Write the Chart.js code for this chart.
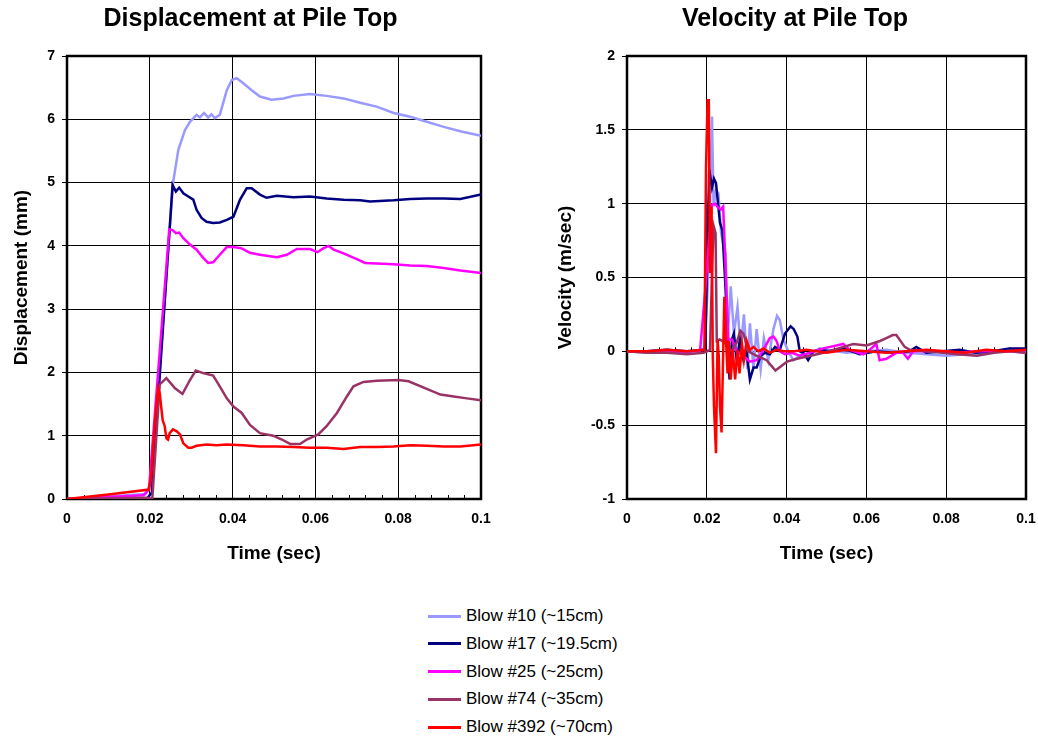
<!DOCTYPE html>
<html>
<head>
<meta charset="UTF-8" />
<script src="https://cdn.jsdelivr.net/npm/chart.js"></script>
<style>
  body, html {
    margin: 0;
    padding: 0;
    background: #fff;
    width: 1038px;
    height: 740px;
    overflow: hidden;
    font-family: "Liberation Sans", Arial, sans-serif;
  }
  #dispChart { position: absolute; left: 0; top: 0; }
  #velChart { position: absolute; left: 552px; top: 0; }
  .row { position: absolute; left: 428px; height: 28px; line-height: 28px; font-size: 17px; color: #000; white-space: nowrap; }
  .row span.line { position: absolute; left: 0; top: 12.5px; width: 33px; height: 3px; }
  .row span.txt { position: absolute; left: 38px; top: 0; }
</style>
</head>
<body>
<canvas id="dispChart" width="501" height="569"></canvas>
<canvas id="velChart" width="486" height="569"></canvas>
<div id="legend"></div>
<script>
  const blowNames = ['Blow #10 (~15cm)', 'Blow #17 (~19.5cm)', 'Blow #25 (~25cm)', 'Blow #74 (~35cm)', 'Blow #392 (~70cm)'];
  const blowColors = ['#9999FF', '#000080', '#FF00FF', '#993366', '#FF0000'];

  // displacement (mm) vs time (sec), [t, d]
  const disp10 = [[0,0],[0.01,0.04],[0.019,0.08],[0.0205,0.3],[0.0256,4.99],[0.0269,5.52],[0.0285,5.83],[0.0297,5.96],[0.0313,6.07],[0.0321,6.03],[0.0331,6.1],[0.0341,6.03],[0.0349,6.08],[0.0357,6.02],[0.0369,6.07],[0.0386,6.46],[0.0398,6.62],[0.041,6.65],[0.0426,6.57],[0.0446,6.46],[0.0466,6.36],[0.0494,6.31],[0.0523,6.33],[0.0547,6.37],[0.0587,6.4],[0.0627,6.37],[0.0668,6.33],[0.0708,6.26],[0.0748,6.2],[0.0789,6.1],[0.0829,6.04],[0.0869,5.96],[0.091,5.88],[0.095,5.81],[0.1,5.74]];
  const disp17 = [[0,0],[0.0192,0],[0.0205,0.1],[0.0255,4.96],[0.0263,4.86],[0.0271,4.92],[0.0281,4.83],[0.0293,4.78],[0.0305,4.73],[0.0313,4.57],[0.0325,4.44],[0.0337,4.38],[0.0353,4.36],[0.0369,4.37],[0.0386,4.41],[0.0402,4.46],[0.0418,4.73],[0.0434,4.91],[0.0446,4.91],[0.0466,4.81],[0.0482,4.76],[0.0507,4.79],[0.0547,4.77],[0.0587,4.78],[0.0627,4.75],[0.0668,4.73],[0.0708,4.72],[0.0732,4.7],[0.0789,4.72],[0.0829,4.74],[0.0869,4.75],[0.091,4.75],[0.095,4.74],[0.1,4.81]];
  const disp25 = [[0,0],[0.01,0.03],[0.0185,0.06],[0.0198,0.15],[0.0247,4.26],[0.0255,4.25],[0.0263,4.2],[0.0271,4.21],[0.0281,4.12],[0.0297,4.02],[0.0313,3.94],[0.0329,3.81],[0.0341,3.73],[0.0353,3.74],[0.0369,3.86],[0.0386,3.98],[0.0402,3.98],[0.0422,3.96],[0.0442,3.89],[0.0466,3.86],[0.0507,3.82],[0.0531,3.86],[0.0555,3.95],[0.0587,3.95],[0.0605,3.9],[0.0619,3.96],[0.0632,4.0],[0.0644,3.94],[0.0668,3.88],[0.07,3.79],[0.072,3.73],[0.0748,3.72],[0.0789,3.71],[0.0829,3.69],[0.0869,3.68],[0.091,3.65],[0.095,3.61],[0.1,3.57]];
  const disp74 = [[0,0],[0.01,0.01],[0.0195,0.02],[0.0206,0],[0.0224,1.81],[0.024,1.91],[0.0261,1.75],[0.0279,1.66],[0.0297,1.88],[0.0311,2.03],[0.0329,1.99],[0.0353,1.95],[0.0369,1.78],[0.0386,1.59],[0.0402,1.46],[0.0422,1.36],[0.0442,1.17],[0.0466,1.04],[0.0498,1.0],[0.0519,0.94],[0.0539,0.87],[0.0563,0.87],[0.0579,0.94],[0.0607,1.02],[0.0627,1.15],[0.0652,1.36],[0.0676,1.62],[0.0692,1.78],[0.0716,1.85],[0.0748,1.87],[0.0801,1.88],[0.0825,1.86],[0.0869,1.74],[0.0902,1.65],[0.0934,1.62],[0.0966,1.59],[0.1,1.56]];
  const disp392 = [[0,0],[0.01,0.07],[0.0198,0.15],[0.0204,0.41],[0.0212,1.2],[0.022,1.75],[0.0224,1.67],[0.0231,1.25],[0.0236,1.15],[0.024,0.96],[0.0244,0.94],[0.0248,1.04],[0.0256,1.1],[0.0265,1.07],[0.0273,1.02],[0.0281,0.88],[0.0293,0.81],[0.0301,0.81],[0.0313,0.84],[0.0337,0.86],[0.0361,0.85],[0.0386,0.86],[0.0426,0.85],[0.0466,0.83],[0.0507,0.83],[0.0547,0.82],[0.0587,0.81],[0.0627,0.81],[0.0668,0.79],[0.0708,0.82],[0.0748,0.82],[0.0789,0.83],[0.0829,0.85],[0.0869,0.84],[0.091,0.83],[0.095,0.83],[0.1,0.86]];

  // velocity (m/sec) vs time (sec), [t, v]
  const vel10 = [[0,0],[0.005,-0.01],[0.01,0],[0.015,-0.01],[0.0195,0.02],[0.0205,0.6],[0.0213,1.59],[0.0217,0.98],[0.0223,1.09],[0.0229,1.07],[0.0236,0.8],[0.0242,0.71],[0.0247,0.67],[0.0252,0.08],[0.026,0.44],[0.0268,0.12],[0.0277,0.3],[0.0285,0.01],[0.0293,0.25],[0.0302,-0.12],[0.0308,0.19],[0.0317,-0.12],[0.0325,0.15],[0.0335,-0.12],[0.0343,0.09],[0.0354,-0.06],[0.0367,0.15],[0.0376,0.24],[0.0383,0.21],[0.0392,0.08],[0.0404,0],[0.0417,-0.06],[0.0438,-0.02],[0.0458,-0.02],[0.0483,0.02],[0.05,0.01],[0.055,-0.01],[0.06,0],[0.065,0.01],[0.07,-0.01],[0.075,-0.02],[0.08,-0.03],[0.085,-0.02],[0.09,-0.01],[0.095,0.01],[0.1,0]];
  const vel17 = [[0,0],[0.005,0],[0.01,0.01],[0.015,0],[0.0196,0.01],[0.0206,1.23],[0.0213,1.11],[0.0218,1.17],[0.0223,1.14],[0.0233,0.87],[0.0239,0.82],[0.0245,0.53],[0.025,0.26],[0.0257,-0.19],[0.0263,0.08],[0.0268,0.12],[0.0275,-0.06],[0.0283,0.08],[0.0292,-0.06],[0.03,-0.01],[0.0308,-0.19],[0.0317,-0.11],[0.0325,-0.11],[0.0335,-0.03],[0.0346,-0.01],[0.0358,-0.02],[0.0371,0.03],[0.0383,0.01],[0.0396,0.12],[0.041,0.17],[0.0418,0.15],[0.0427,0.1],[0.0433,0],[0.0442,-0.01],[0.0454,-0.06],[0.0467,0],[0.0483,0.01],[0.0508,0],[0.0542,0.02],[0.0583,-0.02],[0.0625,0],[0.0667,-0.01],[0.0708,0],[0.0725,0.03],[0.075,-0.01],[0.0792,0],[0.0833,0.01],[0.0875,-0.01],[0.0917,0],[0.0958,0.02],[0.1,0.02]];
  const vel25 = [[0,0],[0.005,0],[0.01,-0.01],[0.015,0],[0.0183,0],[0.0196,0.41],[0.0212,0.99],[0.0221,1.0],[0.0229,0.97],[0.0235,0.96],[0.0241,0.98],[0.0246,0.64],[0.0254,0.08],[0.0263,0.08],[0.0275,0],[0.0292,-0.03],[0.0308,-0.07],[0.0325,-0.06],[0.0342,0.01],[0.0358,0.09],[0.0367,0.1],[0.0375,0.07],[0.0383,0],[0.0396,-0.02],[0.0413,-0.01],[0.0433,-0.03],[0.0458,-0.01],[0.0492,0.02],[0.0525,0.04],[0.0542,0.05],[0.0558,0.01],[0.0592,-0.02],[0.0608,0.01],[0.0625,0.05],[0.0633,-0.06],[0.065,-0.05],[0.0675,-0.01],[0.0692,-0.01],[0.0704,-0.05],[0.0717,0],[0.075,0],[0.0792,0],[0.0833,-0.01],[0.0875,0],[0.0958,0],[0.1,-0.01]];
  const vel74 = [[0,0],[0.005,-0.01],[0.01,-0.01],[0.015,-0.02],[0.0192,-0.01],[0.0208,0.01],[0.0213,0.53],[0.0217,0.85],[0.0222,0.8],[0.0225,0.07],[0.0232,0.08],[0.0245,0.06],[0.0262,0],[0.0275,0.06],[0.0284,0.14],[0.0292,0.12],[0.0304,0],[0.0325,-0.03],[0.035,-0.06],[0.0372,-0.13],[0.0401,-0.07],[0.0426,-0.05],[0.046,-0.03],[0.0492,-0.01],[0.053,0.02],[0.0567,0.05],[0.06,0.04],[0.0634,0.07],[0.065,0.09],[0.0666,0.11],[0.0675,0.11],[0.0696,0.03],[0.0709,0.01],[0.075,0],[0.079,-0.01],[0.0827,-0.02],[0.0877,-0.03],[0.092,-0.01],[0.096,0],[0.1,-0.01]];
  const vel392 = [[0,0],[0.005,0],[0.01,0.01],[0.015,0],[0.0194,0.01],[0.0198,1.25],[0.0202,1.7],[0.0205,1.7],[0.0208,0.53],[0.0212,0.98],[0.0215,-0.03],[0.0218,-0.37],[0.0223,-0.69],[0.0227,0.08],[0.023,-0.03],[0.0233,-0.37],[0.0237,-0.55],[0.024,-0.15],[0.0244,0.37],[0.0248,0.08],[0.0252,-0.15],[0.0255,0.07],[0.026,-0.19],[0.0265,0.01],[0.0271,-0.19],[0.0277,0.01],[0.0282,-0.15],[0.0288,0.05],[0.0293,-0.06],[0.03,0.07],[0.0308,0.01],[0.0317,0.03],[0.0329,0],[0.0342,0.02],[0.0358,-0.01],[0.0375,0.01],[0.0392,0],[0.042,0],[0.045,0.01],[0.05,-0.01],[0.055,0.01],[0.06,0],[0.065,-0.01],[0.07,0],[0.075,0.01],[0.08,0],[0.085,-0.01],[0.09,0.01],[0.095,0],[0.1,0.01]];

  const dispSeries = [disp10, disp17, disp25, disp74, disp392];
  const velSeries = [vel10, vel17, vel25, vel74, vel392];

  const FONT = '"Liberation Sans", Arial, sans-serif';
  Chart.defaults.font.family = FONT;
  Chart.defaults.color = '#000';

  // frame round the plot area and small minor ticks on the time axis at y = 0
  const plotFrame = {
    id: 'plotFrame',
    beforeDatasetsDraw(chart) {
      const { ctx, chartArea, scales: { x, y } } = chart;
      ctx.save();
      ctx.strokeStyle = '#000';
      ctx.lineWidth = 1;
      const y0 = y.getPixelForValue(0);
      for (let k = 1; k < 25; k++) {
        if (k % 5 === 0) continue;
        const px = Math.round(x.getPixelForValue(k * 0.004)) + 0.5;
        ctx.beginPath();
        ctx.moveTo(px, y0);
        ctx.lineTo(px, y0 - 4);
        ctx.stroke();
      }
      ctx.lineWidth = 2.5;
      ctx.strokeRect(chartArea.left, chartArea.top, chartArea.width, chartArea.height);
      ctx.restore();
    }
  };

  function fmt(v) { return String(Number(v.toFixed(2))); }

  function makeChart(id, series, title, yTitle, yMin, yMax, yStep, yTitlePad, yWidth, padRight) {
    new Chart(document.getElementById(id), {
      type: 'line',
      data: {
        datasets: series.map((s, i) => ({
          label: blowNames[i],
          data: s.map(p => ({ x: p[0], y: p[1] })),
          borderColor: blowColors[i],
          backgroundColor: blowColors[i],
          borderWidth: 2.5,
          pointRadius: 0,
          tension: 0,
          order: 4 - i
        }))
      },
      options: {
        responsive: false,
        animation: false,
        devicePixelRatio: 1,
        layout: { padding: 0 },
        plugins: {
          legend: { display: false },
          tooltip: { enabled: false },
          title: {
            display: true,
            text: title,
            color: '#000',
            font: { size: 25, weight: 'bold' },
            padding: { top: 4, bottom: 22 }
          }
        },
        scales: {
          x: {
            type: 'linear',
            min: 0,
            max: 0.1,
            // keep the title centred on the whole canvas, push the plot in from the right here
            afterFit: s => { s.height = 70; s.paddingLeft = 0; s.paddingRight = padRight; },
            ticks: { stepSize: 0.02, padding: 12, color: '#000', font: { size: 14, weight: 'bold' }, callback: fmt },
            grid: { color: '#000', lineWidth: 1, drawTicks: false },
            border: { display: false },
            title: { display: true, text: 'Time (sec)', color: '#000', font: { size: 19, weight: 'bold' }, padding: { top: 0, bottom: 4 } }
          },
          y: {
            type: 'linear',
            min: yMin,
            max: yMax,
            afterFit: s => { s.width = yWidth; },
            ticks: { stepSize: yStep, padding: 7, color: '#000', font: { size: 14, weight: 'bold' }, callback: fmt },
            grid: { color: '#000', lineWidth: 1, drawTicks: true, tickLength: 5 },
            border: { display: false },
            title: { display: true, text: yTitle, color: '#000', font: { size: 19, weight: 'bold' }, padding: { top: yTitlePad, bottom: 0 } }
          }
        }
      },
      plugins: [plotFrame]
    });
  }

  makeChart('dispChart', dispSeries, 'Displacement at Pile Top', 'Displacement (mm)', 0, 7, 1, 10, 67, 20);
  makeChart('velChart', velSeries, 'Velocity at Pile Top', 'Velocity (m/sec)', -1, 2, 0.5, 2, 75, 12);

  // legend below both charts
  const legend = document.getElementById('legend');
  blowNames.forEach((name, i) => {
    const row = document.createElement('div');
    row.className = 'row';
    row.style.top = (602 + i * 27.8) + 'px';
    row.innerHTML = '<span class="line" style="background:' + blowColors[i] + '"></span><span class="txt">' + name + '</span>';
    legend.appendChild(row);
  });
</script>
</body>
</html>
